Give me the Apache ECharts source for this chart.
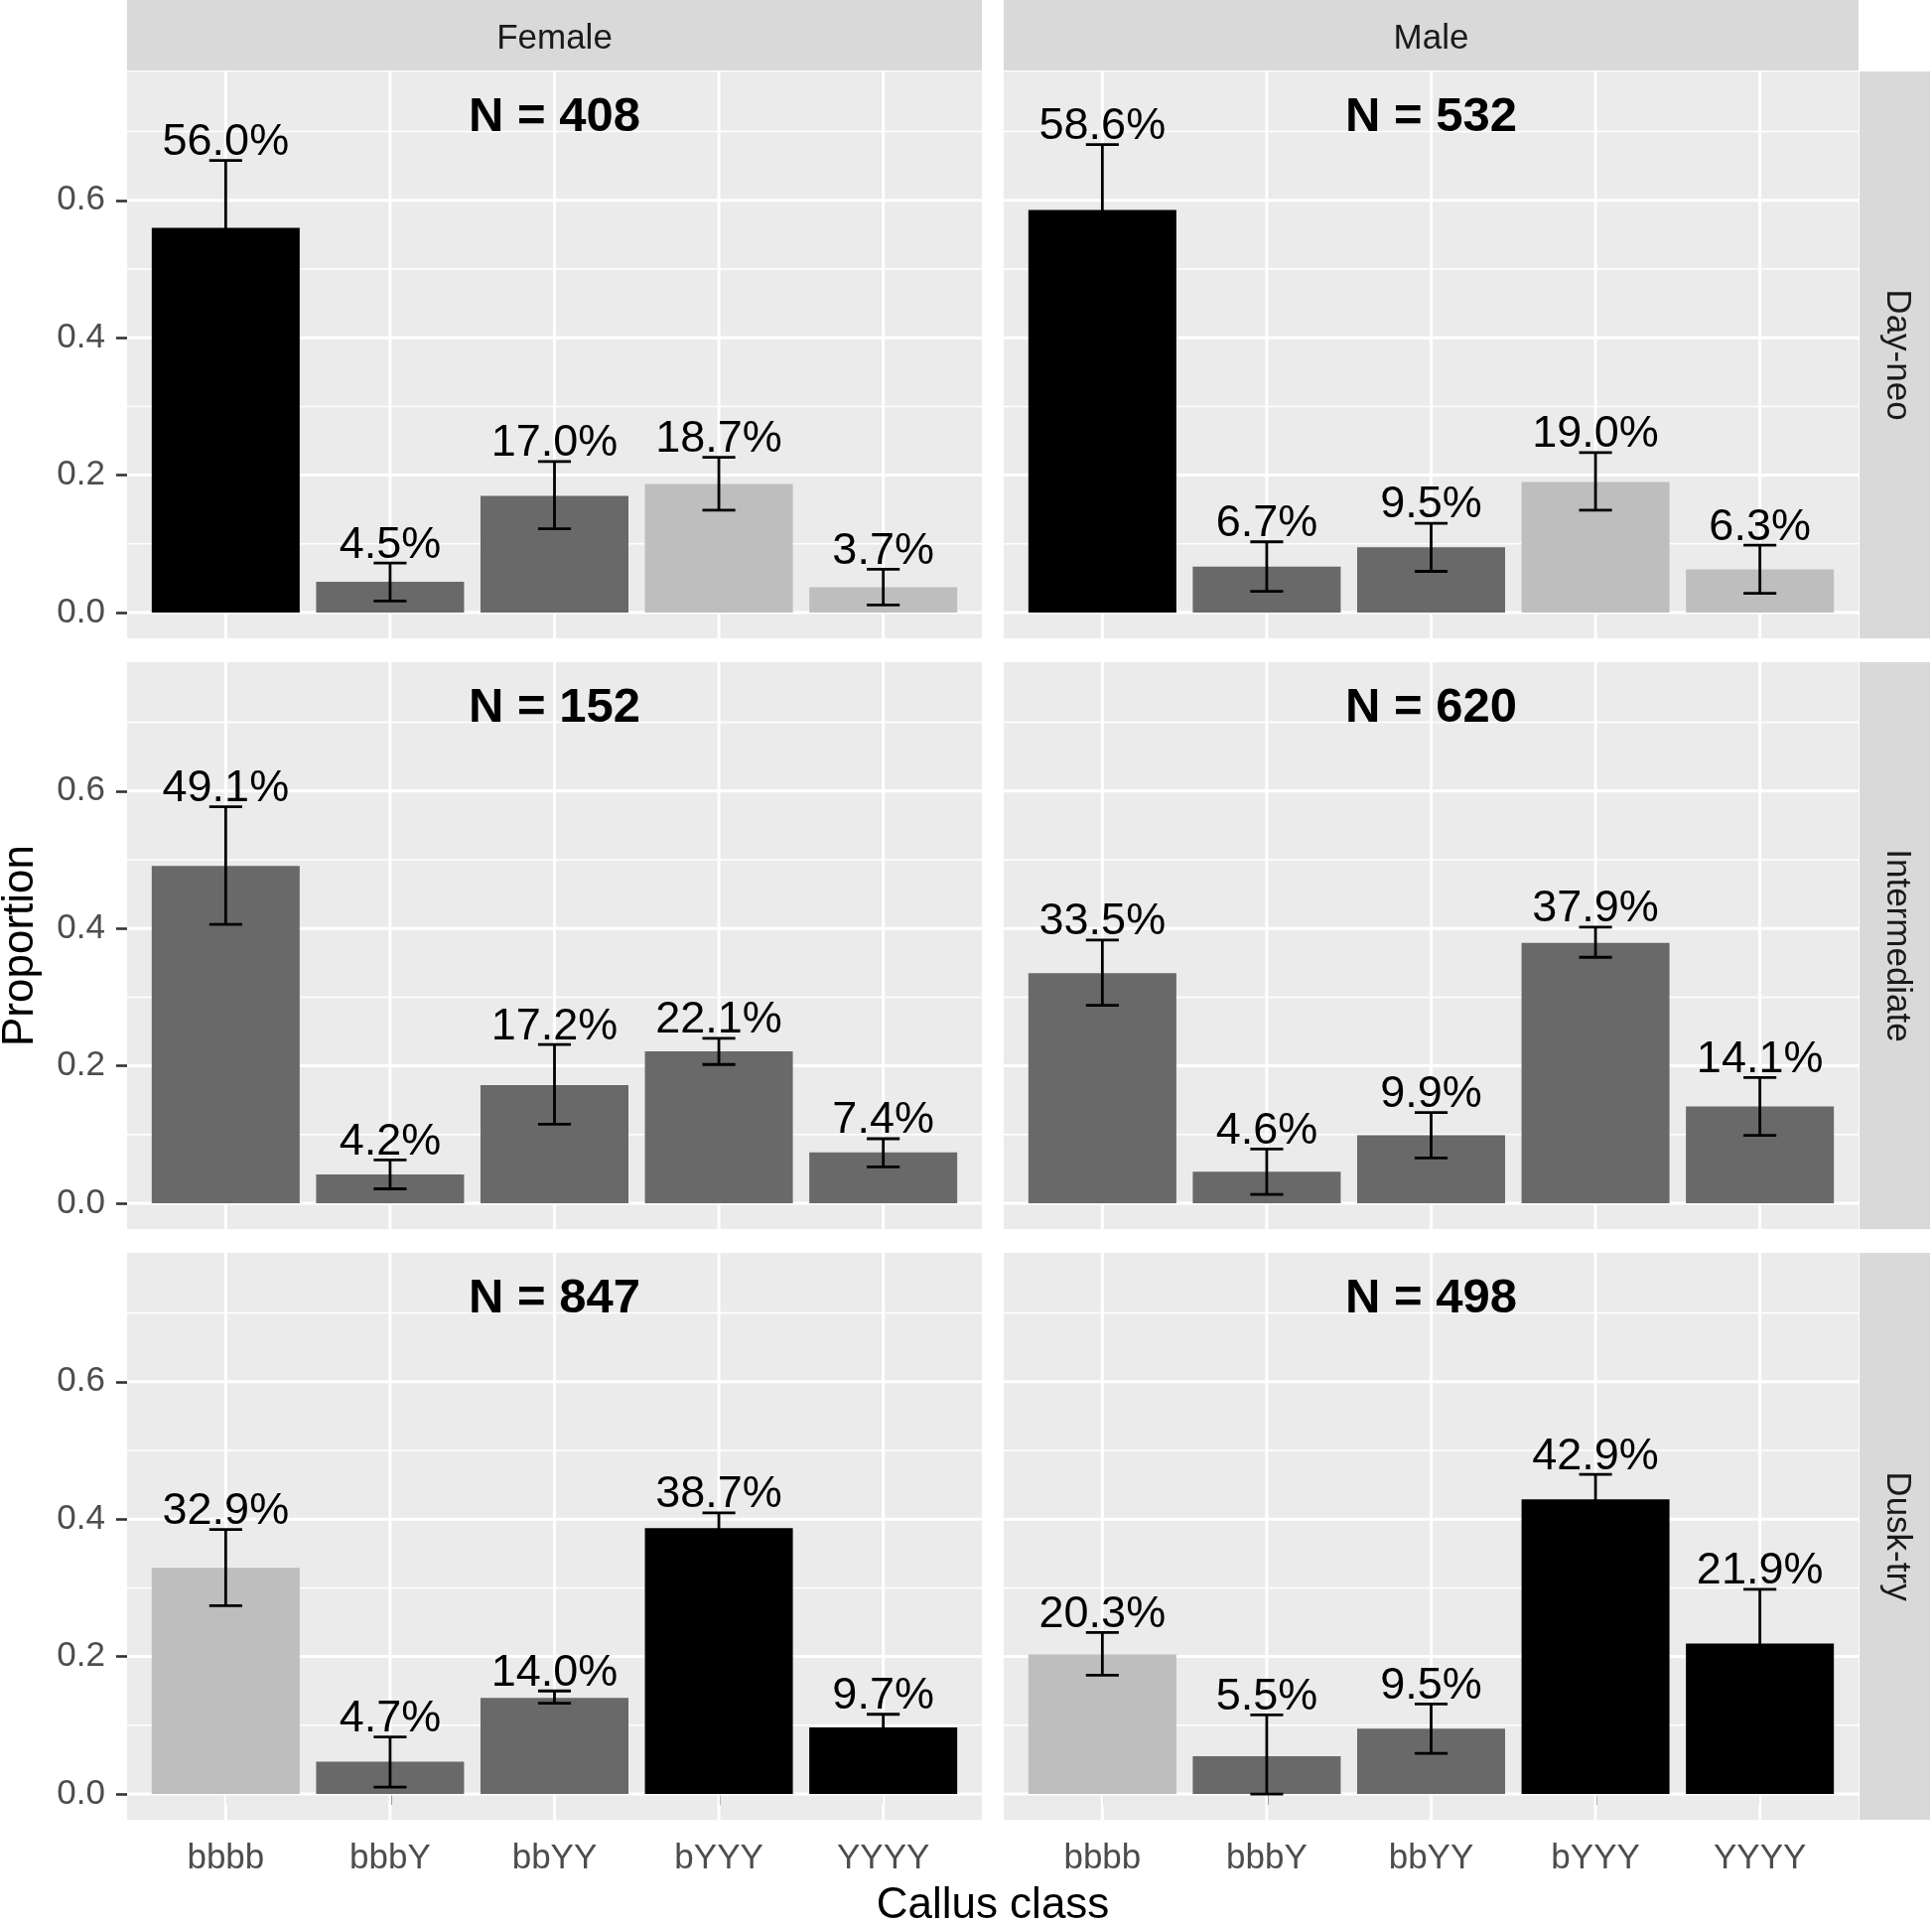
<!DOCTYPE html>
<html><head><meta charset="utf-8">
<script src="https://cdn.jsdelivr.net/npm/echarts@6/dist/echarts.min.js"></script>
<style>html,body{margin:0;padding:0;background:#fff}#chart{width:1946px;height:1938px}</style>
</head><body><div id="chart"></div>
<script>
// ---------- data ----------
const sexes = ['Female', 'Male'];
const periods = ['Day-neo', 'Intermediate', 'Dusk-try'];
const calluses = ['bbbb', 'bbbY', 'bbYY', 'bYYY', 'YYYY'];
const calluxX = [1, 2, 3, 4, 5];
const yTicks = [0, 0.2, 0.4, 0.6];
const yMinorTicks = [0.1, 0.3, 0.5, 0.7];

const nFemale = [408, 152, 847];
const nMale = [532, 620, 498];
const nLabelY = 0.75;

const pctFemaleDayNeo = [56.0, 4.5, 17.0, 18.7, 3.7];
const lowFemaleDayNeo = [0.462, 0.017, 0.122, 0.149, 0.011];
const highFemaleDayNeo = [0.658, 0.072, 0.220, 0.226, 0.063];

const pctMaleDayNeo = [58.6, 6.7, 9.5, 19.0, 6.3];
const lowMaleDayNeo = [0.491, 0.031, 0.060, 0.149, 0.028];
const highMaleDayNeo = [0.681, 0.103, 0.130, 0.233, 0.098];

const pctFemaleInter = [49.1, 4.2, 17.2, 22.1, 7.4];
const lowFemaleInter = [0.406, 0.021, 0.115, 0.202, 0.053];
const highFemaleInter = [0.577, 0.063, 0.231, 0.240, 0.094];

const pctMaleInter = [33.5, 4.6, 9.9, 37.9, 14.1];
const lowMaleInter = [0.288, 0.013, 0.066, 0.358, 0.099];
const highMaleInter = [0.383, 0.079, 0.132, 0.402, 0.183];

const pctFemaleDusk = [32.9, 4.7, 14.0, 38.7, 9.7];
const lowFemaleDusk = [0.274, 0.010, 0.132, 0.366, 0.078];
const highFemaleDusk = [0.385, 0.083, 0.150, 0.409, 0.116];

const pctMaleDusk = [20.3, 5.5, 9.5, 42.9, 21.9];
const lowMaleDusk = [0.173, 0.000, 0.059, 0.390, 0.140];
const highMaleDusk = [0.235, 0.115, 0.131, 0.465, 0.298];

// fill class of each bar (per period, same for both sexes)
const shadeDayNeo = ['black', 'dark', 'dark', 'light', 'light'];
const shadeInter = ['dark', 'dark', 'dark', 'dark', 'dark'];
const shadeDusk = ['light', 'dark', 'dark', 'black', 'black'];

// ---------- layout / style ----------
const shadeColor = { black: '#000000', dark: '#696969', light: '#BEBEBE' };
const FONT = '"Liberation Sans", Arial, Helvetica, sans-serif';
const colLeft = [128, 1011];
const rowTop = [72, 667, 1262];
const PW = 861, PH = 571;
const STRIP = 71;

const panels = [
  [{ pct: pctFemaleDayNeo, lo: lowFemaleDayNeo, hi: highFemaleDayNeo, n: nFemale[0], shade: shadeDayNeo },
   { pct: pctMaleDayNeo, lo: lowMaleDayNeo, hi: highMaleDayNeo, n: nMale[0], shade: shadeDayNeo }],
  [{ pct: pctFemaleInter, lo: lowFemaleInter, hi: highFemaleInter, n: nFemale[1], shade: shadeInter },
   { pct: pctMaleInter, lo: lowMaleInter, hi: highMaleInter, n: nMale[1], shade: shadeInter }],
  [{ pct: pctFemaleDusk, lo: lowFemaleDusk, hi: highFemaleDusk, n: nFemale[2], shade: shadeDusk },
   { pct: pctMaleDusk, lo: lowMaleDusk, hi: highMaleDusk, n: nMale[2], shade: shadeDusk }]
];

const grid = [], xAxis = [], yAxis = [], series = [], graphic = [];
let gi = 0;
for (let r = 0; r < 3; r++) {
  for (let c = 0; c < 2; c++) {
    const p = panels[r][c];
    const bottom = r === 2, left = c === 0;
    grid.push({ left: colLeft[c], top: rowTop[r], width: PW, height: PH, show: true,
      backgroundColor: '#EBEBEB', borderWidth: 0, containLabel: false });
    xAxis.push({ gridIndex: gi, type: 'value', min: 0.4, max: 5.6,
      axisLine: { show: false }, splitLine: { show: false },
      axisTick: { show: bottom, customValues: calluxX, length: 11, lineStyle: { color: '#333333', width: 2.6 } },
      axisLabel: { show: bottom, customValues: calluxX, formatter: v => calluses[Math.round(v) - 1],
        color: '#4D4D4D', fontSize: 35, fontFamily: FONT, margin: 22 } });
    yAxis.push({ gridIndex: gi, type: 'value', min: -0.0375, max: 0.7875,
      axisLine: { show: false }, splitLine: { show: false },
      axisTick: { show: left, customValues: yTicks, length: 11, lineStyle: { color: '#333333', width: 2.6 } },
      axisLabel: { show: left, customValues: yTicks, formatter: v => v.toFixed(1),
        color: '#4D4D4D', fontSize: 35, fontFamily: FONT, margin: 22 } });

    // grid lines (0 = major horizontal, 1 = minor horizontal, 2 = vertical)
    const gridData = [];
    yTicks.forEach(v => gridData.push([0, v]));
    yMinorTicks.forEach(v => gridData.push([1, v]));
    calluxX.forEach(v => gridData.push([2, v]));
    series.push({ type: 'custom', xAxisIndex: gi, yAxisIndex: gi, z: 1, silent: true,
      data: gridData, encode: { x: -1, y: -1 },
      renderItem: (params, api) => {
        const kind = api.value(0), v = api.value(1);
        const cs = params.coordSys;
        if (kind === 2) {
          const x = api.coord([v, 0])[0];
          return { type: 'line', shape: { x1: x, y1: cs.y, x2: x, y2: cs.y + cs.height },
            style: { stroke: '#FFFFFF', lineWidth: 3 } };
        }
        const y = api.coord([1, v])[1];
        return { type: 'line', shape: { x1: cs.x, y1: y, x2: cs.x + cs.width, y2: y },
          style: { stroke: '#FFFFFF', lineWidth: kind === 0 ? 3 : 1.5 } };
      } });

    // bars
    series.push({ type: 'bar', xAxisIndex: gi, yAxisIndex: gi, z: 2, barWidth: '90%', silent: true,
      data: calluses.map((k, i) => ({ value: [calluxX[i], p.pct[i] / 100],
        itemStyle: { color: shadeColor[p.shade[i]] } })) });

    // error bars + percentage labels
    series.push({ type: 'custom', xAxisIndex: gi, yAxisIndex: gi, z: 3, silent: true,
      data: calluses.map((k, i) => [calluxX[i], p.lo[i], p.hi[i], p.pct[i]]),
      encode: { x: 0, y: [1, 2] },
      renderItem: (params, api) => {
        const x = api.value(0), lo = api.value(1), hi = api.value(2), pct = api.value(3);
        const a = api.coord([x, lo]), b = api.coord([x, hi]);
        const half = api.coord([x + 0.1, lo])[0] - a[0];
        const st = { stroke: '#000000', lineWidth: 2.8 };
        return { type: 'group', children: [
          { type: 'line', shape: { x1: a[0], y1: a[1], x2: b[0], y2: b[1] }, style: st },
          { type: 'line', shape: { x1: a[0] - half, y1: a[1], x2: a[0] + half, y2: a[1] }, style: st },
          { type: 'line', shape: { x1: b[0] - half, y1: b[1], x2: b[0] + half, y2: b[1] }, style: st },
          { type: 'text', x: b[0], y: b[1] - 18, style: { text: pct.toFixed(1) + '%', fill: '#000000',
            fontSize: 45, fontFamily: FONT, align: 'center', verticalAlign: 'middle' } }
        ] };
      } });

    // N label
    series.push({ type: 'custom', xAxisIndex: gi, yAxisIndex: gi, z: 4, silent: true,
      data: [[3, nLabelY, p.n]], encode: { x: 0, y: 1 },
      renderItem: (params, api) => {
        const pt = api.coord([api.value(0), api.value(1)]);
        return { type: 'text', x: pt[0], y: pt[1] + 21, style: { text: 'N = ' + api.value(2),
          fill: '#000000', fontSize: 49, fontWeight: 'bold', fontFamily: FONT,
          align: 'center', verticalAlign: 'middle' } };
      } });
    gi++;
  }
}

// strips
sexes.forEach((s, c) => {
  graphic.push({ type: 'rect', shape: { x: colLeft[c], y: 0, width: PW, height: STRIP },
    style: { fill: '#D9D9D9' }, silent: true });
  graphic.push({ type: 'text', x: colLeft[c] + PW / 2, y: STRIP / 2 + 4,
    style: { text: s, fill: '#1A1A1A', fontSize: 35, fontFamily: FONT, align: 'center', verticalAlign: 'middle' } });
});
periods.forEach((s, r) => {
  const sx = colLeft[1] + PW + 1;
  graphic.push({ type: 'rect', shape: { x: sx, y: rowTop[r], width: STRIP, height: PH },
    style: { fill: '#D9D9D9' }, silent: true });
  graphic.push({ type: 'text', x: sx + STRIP / 2 + 2, y: rowTop[r] + PH / 2, rotation: -Math.PI / 2,
    style: { text: s, fill: '#1A1A1A', fontSize: 35, fontFamily: FONT, align: 'center', verticalAlign: 'middle' } });
});
// axis titles
graphic.push({ type: 'text', x: 21, y: rowTop[1] + PH / 2, rotation: Math.PI / 2,
  style: { text: 'Proportion', fill: '#000000', fontSize: 44, fontFamily: FONT, align: 'center', verticalAlign: 'middle' } });
graphic.push({ type: 'text', x: (colLeft[0] + colLeft[1] + PW) / 2, y: 1920,
  style: { text: 'Callus class', fill: '#000000', fontSize: 44, fontFamily: FONT, align: 'center', verticalAlign: 'middle' } });

const chart = echarts.init(document.getElementById('chart'), null, { renderer: 'canvas' });
chart.setOption({ animation: false, backgroundColor: '#FFFFFF', grid, xAxis, yAxis, series, graphic });
</script></body></html>
